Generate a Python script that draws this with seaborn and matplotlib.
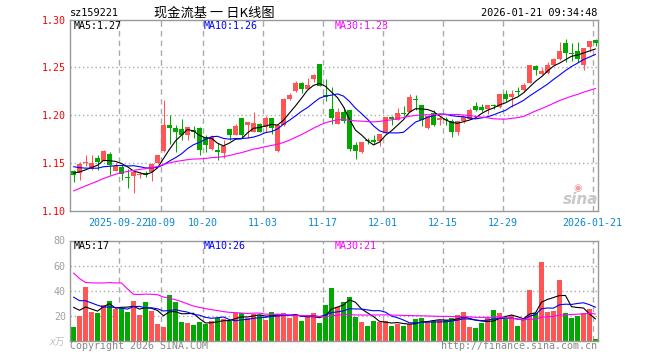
import numpy as np
import pandas as pd
import seaborn as sns
import matplotlib
matplotlib.use("Agg")
from matplotlib import pyplot as plt

# ============================================================
# DATA
# ============================================================
title_code = "sz159221"
title_name = "现金流基 一 日K线图"
timestamp = "2026-01-21 09:34:48"

opens = [1.142, 1.140, 1.150, 1.145, 1.155, 1.152, 1.160, 1.142, 1.146, 1.136,
         1.137, 1.138, 1.140, 1.141, 1.150, 1.163, 1.190, 1.187, 1.186, 1.179,
         1.185, 1.187, 1.177, 1.165, 1.164, 1.161, 1.186, 1.179, 1.197, 1.190,
         1.182, 1.191, 1.188, 1.197, 1.163, 1.190, 1.217, 1.225, 1.234, 1.227,
         1.238, 1.254, 1.221, 1.207, 1.191, 1.203, 1.205, 1.169, 1.162, 1.174,
         1.174, 1.173, 1.182, 1.198, 1.195, 1.202, 1.203, 1.217, 1.211, 1.187,
         1.202, 1.195, 1.196, 1.194, 1.183, 1.194, 1.196, 1.210, 1.209, 1.207,
         1.211, 1.209, 1.222, 1.219, 1.225, 1.226, 1.234, 1.251, 1.243, 1.244,
         1.253, 1.259, 1.275, 1.265, 1.267, 1.252, 1.271, 1.279]
highs = [1.143, 1.151, 1.159, 1.158, 1.158, 1.164, 1.162, 1.150, 1.148, 1.144,
         1.141, 1.141, 1.142, 1.150, 1.158, 1.216, 1.200, 1.190, 1.196, 1.188,
         1.189, 1.188, 1.179, 1.179, 1.171, 1.174, 1.186, 1.191, 1.197, 1.193,
         1.203, 1.192, 1.199, 1.197, 1.190, 1.218, 1.223, 1.236, 1.235, 1.239,
         1.243, 1.254, 1.238, 1.230, 1.208, 1.209, 1.205, 1.172, 1.172, 1.176,
         1.179, 1.180, 1.198, 1.199, 1.208, 1.210, 1.222, 1.221, 1.211, 1.199,
         1.205, 1.199, 1.198, 1.196, 1.194, 1.198, 1.208, 1.214, 1.212, 1.211,
         1.212, 1.222, 1.226, 1.226, 1.229, 1.234, 1.252, 1.253, 1.249, 1.256,
         1.260, 1.276, 1.280, 1.275, 1.277, 1.270, 1.278, 1.280]
lows = [1.130, 1.132, 1.147, 1.143, 1.143, 1.152, 1.138, 1.142, 1.132, 1.124,
        1.119, 1.134, 1.135, 1.131, 1.150, 1.162, 1.170, 1.162, 1.174, 1.174,
        1.176, 1.159, 1.162, 1.164, 1.153, 1.155, 1.174, 1.179, 1.176, 1.176,
        1.182, 1.183, 1.183, 1.180, 1.162, 1.189, 1.216, 1.224, 1.223, 1.227,
        1.235, 1.231, 1.215, 1.191, 1.191, 1.192, 1.163, 1.154, 1.161, 1.170,
        1.170, 1.168, 1.181, 1.190, 1.195, 1.199, 1.203, 1.205, 1.189, 1.186,
        1.189, 1.190, 1.190, 1.177, 1.179, 1.192, 1.196, 1.204, 1.203, 1.201,
        1.207, 1.208, 1.215, 1.209, 1.221, 1.224, 1.234, 1.242, 1.242, 1.243,
        1.252, 1.258, 1.256, 1.257, 1.256, 1.247, 1.266, 1.272]
closes = [1.138, 1.149, 1.151, 1.150, 1.151, 1.163, 1.148, 1.147, 1.139, 1.134,
          1.141, 1.139, 1.138, 1.149, 1.158, 1.190, 1.187, 1.182, 1.179, 1.188,
          1.182, 1.164, 1.169, 1.177, 1.162, 1.168, 1.179, 1.189, 1.179, 1.193,
          1.192, 1.183, 1.197, 1.187, 1.190, 1.217, 1.221, 1.234, 1.227, 1.232,
          1.242, 1.231, 1.219, 1.197, 1.203, 1.194, 1.165, 1.163, 1.172, 1.173,
          1.172, 1.180, 1.198, 1.196, 1.202, 1.201, 1.219, 1.216, 1.195, 1.199,
          1.190, 1.197, 1.195, 1.182, 1.194, 1.198, 1.206, 1.206, 1.205, 1.211,
          1.210, 1.222, 1.217, 1.222, 1.224, 1.232, 1.252, 1.247, 1.246, 1.253,
          1.259, 1.267, 1.265, 1.264, 1.259, 1.270, 1.278, 1.275]
volumes = [11.2, 20.0, 43.2, 22.7, 21.9, 28.8, 32.0, 25.3, 26.1, 22.7,
           32.0, 20.8, 31.2, 23.5, 13.9, 11.2, 36.8, 31.2, 15.2, 14.4,
           12.8, 15.5, 13.9, 16.0, 18.1, 17.3, 16.0, 21.9, 22.4, 18.1,
           21.3, 20.8, 16.5, 23.2, 21.3, 21.9, 18.7, 20.8, 16.0, 19.2,
           22.4, 14.4, 28.8, 42.4, 27.2, 30.7, 34.7, 19.2, 15.5, 12.0,
           16.0, 15.5, 16.0, 12.0, 13.9, 12.0, 13.3, 17.9, 18.7, 15.5,
           16.0, 16.5, 16.5, 18.7, 20.8, 22.7, 11.2, 10.1, 14.7, 18.7,
           24.8, 21.9, 17.3, 20.8, 12.0, 16.5, 40.8, 21.9, 63.2, 23.2,
           24.0, 48.8, 21.9, 18.7, 20.0, 21.9, 25.3, 1.9]

# sessions before the visible window, only used so the MA lines start where the chart shows them
pre_closes = [1.070, 1.072, 1.075, 1.077, 1.079, 1.081, 1.083, 1.085,
              1.100, 1.105, 1.110, 1.114, 1.118, 1.122, 1.127,
              1.135, 1.142, 1.150, 1.158, 1.162, 1.160, 1.155, 1.152,
              1.150, 1.148, 1.143, 1.140, 1.138, 1.139]
pre_volumes = [150, 140, 30, 26, 28, 24, 32, 27, 165, 160, 26, 22, 28, 24,
               68, 62, 70, 60, 68, 64, 48, 44, 40, 40, 43, 32, 30, 31, 30]

date_ticks = [8, 15, 22, 32, 42, 52, 62, 72, 87]
date_labels = ["2025-09-22", "10-09", "10-20", "11-03", "11-17",
               "12-01", "12-15", "12-29", "2026-01-21"]
price_ticks = [1.10, 1.15, 1.20, 1.25, 1.30]
vol_ticks = [20, 40, 60, 80]
ma_windows = [5, 10, 30]
ma_price_text = ["MA5:1.27", "MA10:1.26", "MA30:1.23"]
ma_vol_text = ["MA5:17", "MA10:26", "MA30:21"]

# ============================================================
# STYLE
# ============================================================
RED = "#ff5555"
GREEN = "#00a800"
MA_COLORS = ["#000000", "#0000ff", "#ff00ff"]
GRID = "#aaaaaa"
FRAME = "#999999"
DATE_BLUE = "#0a88d2"
MONO = "DejaVu Sans Mono"

sns.set_style("white")
plt.rcParams["font.family"] = ["DejaVu Sans Mono", "Noto Sans CJK SC"]

W, H = 660, 360
BAR_W = 5 / 6          # 5 px body on a 6 px step
X_LIM = (-3.5 / 6, 88 - 3.5 / 6)


def fx(x):
    return x / W


def fy(y):
    return 1 - y / H


n = len(closes)
idx = np.arange(n)
up = [c >= o for o, c in zip(opens, closes)]
colors = [RED if u else GREEN for u in up]

k = len(pre_closes)
close_s = pd.Series(pre_closes + closes)
vol_s = pd.Series(pre_volumes + volumes)
ma_price = [close_s.rolling(w).mean().to_numpy()[k:] for w in ma_windows]
ma_vol = [vol_s.rolling(w).mean().to_numpy()[k:] for w in ma_windows]

fig = plt.figure(figsize=(W / 100, H / 100), dpi=100)
ax = fig.add_axes([fx(70), fy(211), fx(598) - fx(70), (211 - 19.5) / H])
axv = fig.add_axes([fx(70), fy(341), fx(598) - fx(70), (341 - 240.5) / H])

# ============================================================
# PRICE PANEL
# ============================================================
for yv in price_ticks[1:-1]:
    ax.axhline(yv, color=GRID, lw=1, ls=(0, (1, 2)), zorder=0)
for p in date_ticks:
    ax.axvline(p - 0.5, color=GRID, lw=1, ls=(0, (4, 3)), zorder=0)

bodies = [max(abs(c - o), 0.0008) for o, c in zip(opens, closes)]
bottoms = [min(o, c) for o, c in zip(opens, closes)]
ax.vlines(idx, lows, highs, colors=colors, lw=0.75, zorder=2)
ax.bar(idx, bodies, bottom=bottoms, width=BAR_W, color=colors, lw=0, zorder=3)

for ma, col in zip(ma_price, MA_COLORS):
    sns.lineplot(x=idx, y=ma, color=col, lw=0.8, ax=ax, zorder=4)

ax.set_xlim(*X_LIM)
ax.set_ylim(1.10, 1.30)
ax.set_yticks(price_ticks)
ax.set_yticklabels([f"{t:.2f}" for t in price_ticks], color="red", fontsize=7.2, family=MONO)
ax.set_xticks([p - 0.5 for p in date_ticks])
ax.set_xticklabels(date_labels, color=DATE_BLUE, fontsize=7.2, family=MONO)
ax.tick_params(axis="both", length=0)
ax.tick_params(axis="y", pad=3)
ax.tick_params(axis="x", pad=5)
ax.set_xlabel("")
ax.set_ylabel("")
for s in ax.spines.values():
    s.set_color(FRAME)
    s.set_linewidth(1)

for x0, txt, col in zip([74, 204, 334.5], ma_price_text, MA_COLORS):
    fig.text(fx(x0), fy(26), txt, color=col, fontsize=7.2, family=MONO, va="center", ha="left")

# watermark
fig.text(fx(578), fy(188), "◉", color="#f0a0a0", fontsize=7, ha="center", va="center", family="DejaVu Sans")
fig.text(fx(581), fy(200), "sina", color="#c8c8c8", fontsize=11, fontweight="bold",
         style="italic", ha="center", va="center", family="DejaVu Sans")

# ============================================================
# VOLUME PANEL
# ============================================================
for yv in vol_ticks[:-1]:
    axv.axhline(yv, color=GRID, lw=1, ls=(0, (1, 2)), zorder=0)
for p in date_ticks:
    axv.axvline(p - 0.5, color=GRID, lw=1, ls=(0, (4, 3)), zorder=0)

keys = [f"d{i:02d}" for i in idx]
vol_df = pd.DataFrame({"key": keys, "vol": volumes})
sns.barplot(data=vol_df, x="key", y="vol", hue="key", order=keys, hue_order=keys,
            palette=dict(zip(keys, colors)), width=BAR_W, saturation=1, errorbar=None,
            legend=False, linewidth=0, ax=axv, zorder=2)

for ma, col in zip(ma_vol, MA_COLORS):
    sns.lineplot(x=idx, y=ma, color=col, lw=0.8, ax=axv, zorder=4)

axv.set_xlim(*X_LIM)
axv.set_ylim(0, 80)
axv.set_xticks([])
axv.set_yticks(vol_ticks)
axv.set_yticklabels([str(t) for t in vol_ticks], color="#a0a0a0", fontsize=7.2, family=MONO)
axv.tick_params(axis="y", length=0, pad=3)
axv.set_xlabel("")
axv.set_ylabel("")
for s in axv.spines.values():
    s.set_color(FRAME)
    s.set_linewidth(1)

for x0, txt, col in zip([74, 204, 334.5], ma_vol_text, MA_COLORS):
    fig.text(fx(x0), fy(246), txt, color=col, fontsize=7.2, family=MONO, va="center", ha="left")

fig.text(fx(65), fy(342), "x万", color="#c0c0c0", fontsize=7, style="italic",
         ha="right", va="center", family=["DejaVu Sans", "Noto Sans CJK SC"])

# ============================================================
# HEADER / FOOTER TEXT
# ============================================================
fig.text(fx(70), fy(13), title_code, color="black", fontsize=7.4, family=MONO, va="center", ha="left")
fig.text(fx(214), fy(13), title_name, color="black", fontsize=9.5, family="Noto Sans CJK SC",
         va="center", ha="center")
fig.text(fx(597), fy(13), timestamp, color="black", fontsize=7.4, family=MONO, va="center", ha="right")
fig.text(fx(70), fy(346), "Copyright 2026 SINA.COM", color="#888888", fontsize=7.2, family=MONO,
         va="center", ha="left")
fig.text(fx(597), fy(346), "http://finance.sina.com.cn", color="#888888", fontsize=7.2, family=MONO,
         va="center", ha="right")

fig.savefig("out.png", dpi=100)
plt.close(fig)
